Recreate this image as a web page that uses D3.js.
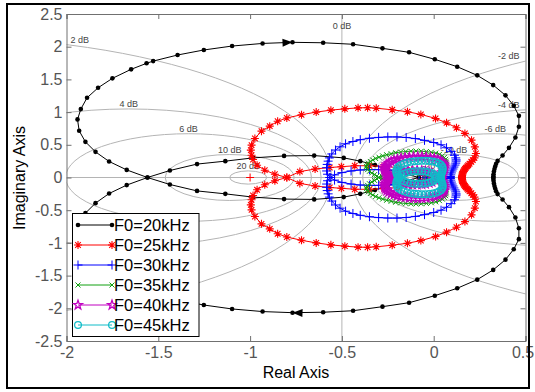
<!DOCTYPE html>
<html>
<head>
<meta charset="utf-8">
<script src="https://cdn.jsdelivr.net/npm/d3@7"></script>
<style>
  body { margin: 0; background: #fff; }
  svg { display: block; }
  text { font-family: Arial, "Liberation Sans", sans-serif; }
</style>
</head>
<body>
<svg width="535" height="392"></svg>
<script>
// upper half of each Nyquist contour as [re, im]; the other half is its mirror
var f20 = [[-0.08,0],[-0.15,-0.05],[-0.25,-0.12],[-0.32,-0.19],[-0.40,-0.25],[-0.49,-0.30],[-0.651,-0.335],[-0.815,-0.33],
  [-0.984,-0.30],[-1.135,-0.25],[-1.289,-0.205],[-1.437,-0.107],[-1.559,0],[-1.672,0.116],[-1.768,0.245],[-1.842,0.392],
  [-1.897,0.545],[-1.931,0.714],[-1.94,0.888],[-1.922,1.046],[-1.888,1.219],[-1.828,1.372],[-1.75,1.516],[-1.648,1.654],
  [-1.564,1.746],[-1.528,1.78],[-1.395,1.873],[-1.252,1.95],[-1.098,2.01],[-0.932,2.05],[-0.769,2.067],[-0.602,2.06],
  [-0.439,2.037],[-0.279,1.975],[-0.134,1.914],[0.006,1.807],[0.128,1.694],[0.237,1.562],[0.324,1.413],[0.391,1.256],
  [0.436,1.097],[0.464,0.943],[0.464,0.775],[0.445,0.612],[0.41,0.453],[0.375,0.337],[0.348,0.254],[0.34,0.21],
  [0.335,0.17],[0.331,0.13],[0.328,0.09],[0.326,0.05],[0.325,0.02],[0.325,0]];

var f25 = [[-0.03,0],[-0.06,-0.06],[-0.12,-0.11],[-0.19,-0.15],[-0.27,-0.17],[-0.35,-0.18],[-0.43,-0.18],[-0.503,-0.165],
  [-0.566,-0.153],[-0.646,-0.13],[-0.729,-0.09],[-0.80,0],[-0.865,0.05],[-0.92,0.112],[-0.962,0.188],[-0.984,0.275],
  [-0.992,0.341],[-0.996,0.418],[-0.992,0.495],[-0.974,0.597],[-0.938,0.709],[-0.893,0.785],[-0.85,0.86],[-0.80,0.91],
  [-0.72,0.96],[-0.64,1.0],[-0.56,1.03],[-0.484,1.05],[-0.412,1.065],[-0.36,1.067],[-0.313,1.06],[-0.226,1.035],
  [-0.143,1.005],[-0.07,0.965],[0.01,0.903],[0.07,0.836],[0.124,0.76],[0.17,0.674],[0.206,0.571],[0.224,0.469],
  [0.23,0.367],[0.222,0.3],[0.213,0.265],[0.205,0.24],[0.195,0.21],[0.188,0.188],[0.182,0.17],[0.175,0.15],
  [0.17,0.13],[0.165,0.11],[0.161,0.09],[0.158,0.07],[0.156,0.05],[0.155,0.03],[0.154,0.015],[0.154,0]];

var f30 = [[-0.04,0],[-0.08,-0.05],[-0.15,-0.085],[-0.2,-0.105],[-0.25,-0.115],[-0.3,-0.12],[-0.35,-0.12],[-0.4,-0.115],
  [-0.45,-0.1],[-0.5,-0.075],[-0.54,-0.04],[-0.565,0],[-0.578,0.05],[-0.583,0.1],[-0.583,0.15],[-0.58,0.2],
  [-0.575,0.25],[-0.568,0.3],[-0.555,0.36],[-0.535,0.42],[-0.51,0.469],[-0.48,0.515],[-0.44,0.55],[-0.40,0.578],
  [-0.35,0.6],[-0.30,0.613],[-0.25,0.62],[-0.2,0.62],[-0.15,0.612],[-0.1,0.595],[-0.05,0.568],[0.0,0.535],
  [0.04,0.5],[0.07,0.455],[0.095,0.4],[0.113,0.34],[0.12,0.3],[0.122,0.27],[0.122,0.25],[0.12,0.22],[0.116,0.19],
  [0.11,0.16],[0.105,0.13],[0.1,0.1],[0.096,0.07],[0.093,0.04],[0.091,0.015],[0.09,0]];

var f35 = [[-0.02,0],[-0.04,-0.03],[-0.07,-0.05],[-0.1,-0.06],[-0.14,-0.065],[-0.18,-0.065],[-0.22,-0.055],[-0.255,-0.04],
  [-0.28,-0.02],[-0.30,0],[-0.31,0.02],[-0.322,0.045],[-0.337,0.07],[-0.35,0.095],[-0.36,0.12],[-0.365,0.145],
  [-0.366,0.17],[-0.363,0.195],[-0.356,0.22],[-0.345,0.245],[-0.332,0.268],[-0.316,0.29],[-0.298,0.31],[-0.278,0.33],
  [-0.256,0.348],[-0.232,0.364],[-0.207,0.378],[-0.18,0.389],[-0.152,0.397],[-0.124,0.402],[-0.096,0.404],[-0.068,0.402],
  [-0.04,0.396],[-0.013,0.386],[0.011,0.372],[0.031,0.353],[0.047,0.33],[0.058,0.305],[0.065,0.278],[0.068,0.25],
  [0.068,0.222],[0.066,0.194],[0.062,0.166],[0.058,0.138],[0.054,0.11],[0.05,0.082],[0.047,0.055],[0.045,0.028],[0.044,0]];

var f40 = [[0.01,0],[0.005,-0.03],[-0.01,-0.065],[-0.025,-0.083],[-0.045,-0.097],[-0.065,-0.106],[-0.09,-0.11],
  [-0.115,-0.11],[-0.14,-0.104],[-0.163,-0.093],[-0.185,-0.077],[-0.205,-0.057],[-0.222,-0.035],[-0.233,-0.015],
  [-0.24,0],[-0.248,0.025],[-0.256,0.05],[-0.262,0.075],[-0.266,0.1],[-0.267,0.125],[-0.266,0.15],[-0.262,0.175],
  [-0.255,0.2],[-0.245,0.223],[-0.232,0.245],[-0.216,0.265],[-0.198,0.282],[-0.178,0.295],[-0.156,0.305],[-0.133,0.312],
  [-0.11,0.316],[-0.087,0.318],[-0.064,0.317],[-0.041,0.313],[-0.018,0.305],[0.003,0.293],[0.022,0.277],[0.037,0.257],
  [0.048,0.234],[0.055,0.209],[0.058,0.183],[0.058,0.157],[0.056,0.131],[0.053,0.105],[0.049,0.079],[0.046,0.053],
  [0.043,0.027],[0.042,0]];

var f45 = [[0.012,0],[0.008,-0.025],[0.0,-0.05],[-0.012,-0.068],[-0.028,-0.082],[-0.045,-0.091],[-0.065,-0.096],
  [-0.085,-0.097],[-0.105,-0.095],[-0.125,-0.088],[-0.145,-0.076],[-0.162,-0.058],[-0.176,-0.037],[-0.185,-0.017],
  [-0.19,0],[-0.195,0.02],[-0.2,0.045],[-0.203,0.07],[-0.204,0.095],[-0.202,0.12],[-0.198,0.145],[-0.19,0.17],
  [-0.178,0.193],[-0.163,0.212],[-0.145,0.228],[-0.125,0.24],[-0.105,0.248],[-0.085,0.253],[-0.065,0.255],[-0.045,0.255],
  [-0.025,0.251],[-0.005,0.244],[0.013,0.232],[0.028,0.215],[0.039,0.194],[0.046,0.17],[0.049,0.145],[0.049,0.12],
  [0.047,0.095],[0.044,0.07],[0.041,0.045],[0.039,0.02],[0.038,0]];

var names = ["F0=20kHz", "F0=25kHz", "F0=30kHz", "F0=35kHz", "F0=40kHz", "F0=45kHz"];
var colors = ["#000000", "#ff0000", "#0000ff", "#10a010", "#c000c0", "#10bcc8"];
var markers = ["dot", "asterisk", "plus", "cross", "star", "circle"];
var halves = [f20, f25, f30, f35, f40, f45];

var xTicks = [-2, -1.5, -1, -0.5, 0, 0.5];
var yTicks = [-2.5, -2, -1.5, -1, -0.5, 0, 0.5, 1, 1.5, 2, 2.5];
var gridDb = [-20, -10, -6, -4, -2, 2, 4, 6, 10, 20];
var arrowAt = 30; // index in f20 where the direction arrow sits

var svg = d3.select("svg");
var x = d3.scaleLinear().domain([-2, 0.5]).range([66.5, 525.5]);
var y = d3.scaleLinear().domain([-2.5, 2.5]).range([341, 14]);

svg.append("defs").append("clipPath").attr("id", "clip")
  .append("rect").attr("x", 66.5).attr("y", 14).attr("width", 459).attr("height", 327);

// M-circle grid
var grid = svg.append("g").attr("clip-path", "url(#clip)")
  .attr("fill", "none").attr("stroke", "#b4b4b4").attr("stroke-width", 1);
grid.append("line").attr("x1", x(-2)).attr("x2", x(0.5)).attr("y1", y(0)).attr("y2", y(0));
grid.append("line").attr("x1", x(-0.5)).attr("x2", x(-0.5)).attr("y1", y(2.5)).attr("y2", y(-2.5));

var labels = svg.append("g").attr("font-size", "9px").attr("fill", "#444");
gridDb.forEach(function(db) {
  var m = Math.pow(10, db / 20);
  var c = -m * m / (m * m - 1), r = Math.abs(m / (m * m - 1));
  grid.append("ellipse").attr("cx", x(c)).attr("cy", y(0))
    .attr("rx", x(c + r) - x(c)).attr("ry", y(0) - y(r));
  var lx = Math.max(-2, Math.min(0.5, c));
  var ly = Math.sqrt(r * r - (lx - c) * (lx - c));
  var anchor = "middle", px = x(lx);
  if (c < -2) { anchor = "start"; px = x(-2) + 4; }
  if (c > 0.5) { anchor = "end"; px = x(0.5) - 6; }
  labels.append("text").attr("x", px).attr("y", y(ly) - 2)
    .attr("text-anchor", anchor).text(db + " dB");
});
labels.append("text").attr("x", x(-0.5)).attr("y", y(2.5) + 15)
  .attr("text-anchor", "middle").text("0 dB");

// critical point
svg.append("path").attr("d", "M-4,0H4M0,-4V4")
  .attr("transform", "translate(" + x(-1) + "," + y(0) + ")")
  .attr("stroke", "#ff0000").attr("stroke-width", 1);

// axes
function styleAxis(g) {
  g.select(".domain").attr("stroke", "#707070");
  g.selectAll(".tick line").attr("stroke", "#707070");
  g.selectAll(".tick text").attr("fill", "#555").attr("font-size", "16px")
    .attr("font-family", "Arial, 'Liberation Sans', sans-serif");
}
var fmt = function(d) { return String(d); };
var gxb = svg.append("g").attr("transform", "translate(0,341)")
  .call(d3.axisBottom(x).tickValues(xTicks).tickSize(-5).tickPadding(6).tickFormat(fmt)).call(styleAxis);
gxb.selectAll(".tick text").filter(function(d) { return d === 0.5; }).attr("dx", -3);
svg.append("g").attr("transform", "translate(0,14)")
  .call(d3.axisTop(x).tickValues(xTicks).tickSize(-5).tickFormat("")).call(styleAxis);
svg.append("g").attr("transform", "translate(66.5,0)")
  .call(d3.axisLeft(y).tickValues(yTicks).tickSize(-5).tickPadding(4).tickFormat(fmt)).call(styleAxis);
svg.append("g").attr("transform", "translate(525.5,0)")
  .call(d3.axisRight(y).tickValues(yTicks).tickSize(-5).tickFormat("")).call(styleAxis);

svg.append("text").attr("x", 296).attr("y", 378).attr("text-anchor", "middle")
  .attr("font-size", "16px").text("Real Axis");
svg.append("text").attr("transform", "translate(25,178) rotate(-90)").attr("text-anchor", "middle")
  .attr("font-size", "16px").text("Imaginary Axis");

// marker shapes
function starPath(R) {
  var p = [];
  for (var i = 0; i < 10; i++) {
    var a = -Math.PI / 2 + i * Math.PI / 5, rr = i % 2 ? R * 0.4 : R;
    p.push((rr * Math.cos(a)).toFixed(2) + "," + (rr * Math.sin(a)).toFixed(2));
  }
  return "M" + p.join("L") + "Z";
}
var shapes = {
  asterisk: "M0,-4V4M-4,0H4M-2.8,-2.8L2.8,2.8M-2.8,2.8L2.8,-2.8",
  plus: "M0,-4.5V4.5M-4.5,0H4.5",
  cross: "M-2.5,-2.5L2.5,2.5M-2.5,2.5L2.5,-2.5",
  star: starPath(4.7)
};
var markerWidth = { asterisk: 1.1, plus: 1, cross: 1, star: 1.3, circle: 1.2 };
function drawMarker(g, kind, color, px, py) {
  if (kind === "dot") {
    g.append("circle").attr("cx", px).attr("cy", py).attr("r", 2.3).attr("fill", color);
  } else if (kind === "circle") {
    g.append("circle").attr("cx", px).attr("cy", py).attr("r", 3.4)
      .attr("fill", "none").attr("stroke", color).attr("stroke-width", markerWidth.circle);
  } else {
    g.append("path").attr("d", shapes[kind]).attr("transform", "translate(" + px + "," + py + ")")
      .attr("fill", "none").attr("stroke", color).attr("stroke-width", markerWidth[kind]);
  }
}

var line = d3.line().x(function(d) { return x(d[0]); }).y(function(d) { return y(d[1]); });

halves.forEach(function(h, i) {
  var mirror = h.slice().reverse().map(function(d) { return [d[0], -d[1]]; });
  var full = h.concat(mirror.slice(1));
  var g = svg.append("g");
  g.append("path").datum(full).attr("d", line).attr("fill", "none")
    .attr("stroke", colors[i]).attr("stroke-width", 1).attr("stroke-linejoin", "round");
  full.forEach(function(d) { drawMarker(g, markers[i], colors[i], x(d[0]), y(d[1])); });
});

// direction arrows on the 20 kHz contour
[1, -1].forEach(function(s) {
  var a = f20[arrowAt], b = f20[arrowAt - 1];
  var tx = x(a[0]), ty = y(s * a[1]);
  var dx = s > 0 ? x(a[0]) - x(b[0]) : x(b[0]) - x(a[0]);
  var dy = s > 0 ? y(a[1]) - y(b[1]) : y(-b[1]) - y(-a[1]);
  var ang = Math.atan2(dy, dx) * 180 / Math.PI;
  svg.append("path").attr("d", "M0,0L-10,-4L-10,4Z").attr("fill", "#000")
    .attr("transform", "translate(" + tx + "," + ty + ") rotate(" + ang + ")");
});

// legend
var lg = svg.append("g");
lg.append("rect").attr("x", 72.5).attr("y", 213.5).attr("width", 126.5).attr("height", 123)
  .attr("fill", "#fff").attr("stroke", "#000").attr("stroke-width", 1);
names.forEach(function(n, i) {
  var ly = 225 + i * 20;
  lg.append("line").attr("x1", 78).attr("x2", 112).attr("y1", ly).attr("y2", ly)
    .attr("stroke", colors[i]).attr("stroke-width", 1);
  drawMarker(lg, markers[i], colors[i], 78, ly);
  drawMarker(lg, markers[i], colors[i], 112, ly);
  lg.append("text").attr("x", 114).attr("y", ly + 6).attr("font-size", "16.5px").text(n);
});

// outer frame
svg.append("rect").attr("x", 7).attr("y", 4).attr("width", 522).attr("height", 384)
  .attr("fill", "none").attr("stroke", "#000").attr("stroke-width", 2);
</script>
</body>
</html>
